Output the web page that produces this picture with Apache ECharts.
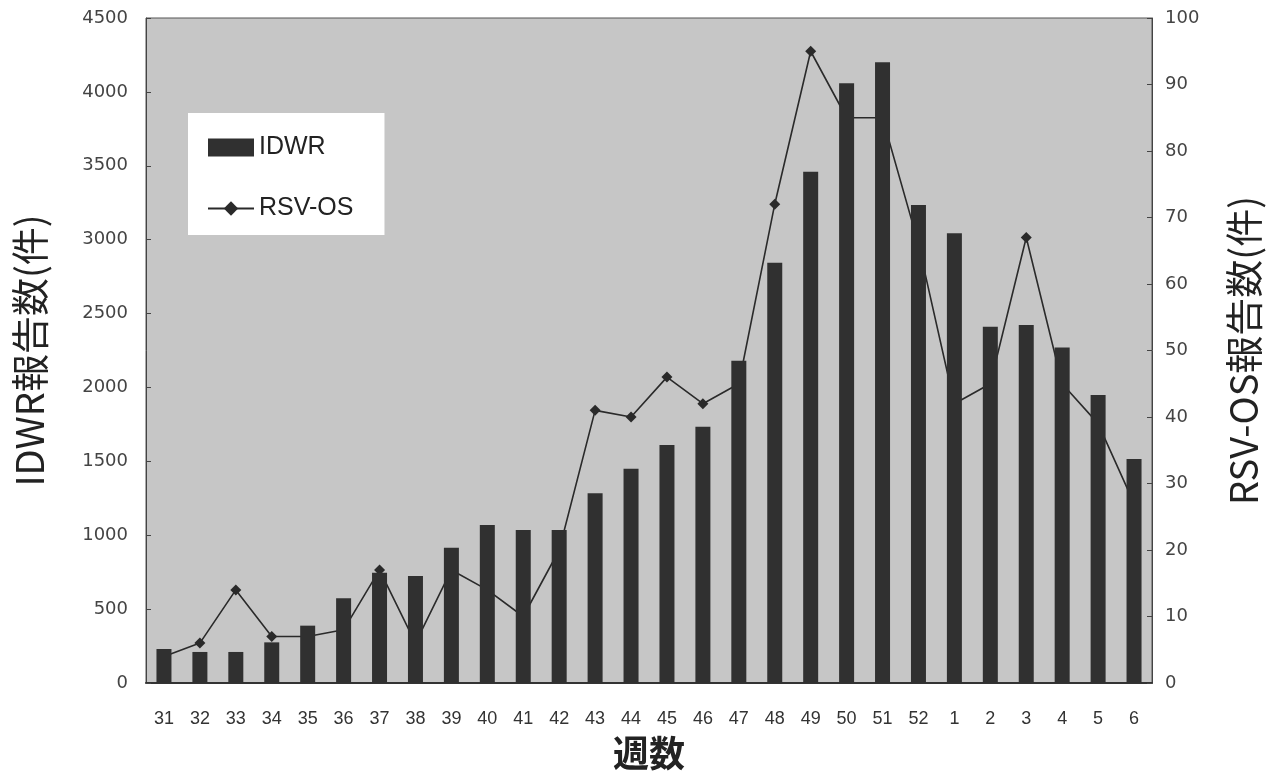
<!DOCTYPE html>
<html>
<head>
<meta charset="utf-8">
<script src="https://cdn.jsdelivr.net/npm/echarts@6/dist/echarts.min.js"></script>
<style>
html, body { margin: 0; padding: 0; background: #fff; }
#chart { width: 1270px; height: 771px; }
</style>
</head>
<body>
<div id="chart"></div>
<script>
var weeks = ['31', '32', '33', '34', '35', '36', '37', '38', '39', '40', '41', '42', '43', '44',
    '45', '46', '47', '48', '49', '50', '51', '52', '1', '2', '3', '4', '5', '6'];
var idwrData = [230, 210, 210, 275, 388, 573, 746, 724, 916, 1069, 1035, 1035, 1284, 1450,
    1610, 1734, 2181, 2844, 3460, 4058, 4200, 3234, 3043, 2411, 2422, 2271, 1949, 1516];
var rsvData = [4, 6, 14, 7, 7, 8, 17, 6, 17, 14, 10, 20, 41, 40,
    46, 42, 45, 72, 95, 85, 85, 66, 42, 45, 67, 45, 39, 27];

var numFont = 'DejaVu Sans';
var cjkFont = 'Noto Sans CJK JP';

var chart = echarts.init(document.getElementById('chart'));
chart.setOption({
    animation: false,
    grid: {
        left: 146,
        right: 118,
        top: 18,
        bottom: 88,
        containLabel: false,
        outerBoundsMode: 'none',
        show: true,
        backgroundColor: '#c6c6c6',
        borderColor: '#555',
        borderWidth: 1
    },
    legend: {
        orient: 'vertical',
        left: 188,
        top: 113,
        padding: [22, 31, 14, 19],
        itemGap: 36,
        itemWidth: 46,
        itemHeight: 18,
        backgroundColor: '#fff',
        textStyle: {fontFamily: 'Liberation Sans', fontSize: 25, color: '#222'},
        data: [
            {name: 'IDWR', icon: 'rect'},
            {name: 'RSV-OS'}
        ]
    },
    xAxis: {
        type: 'category',
        data: weeks,
        name: '週数',
        nameLocation: 'middle',
        nameGap: 52,
        nameTextStyle: {fontFamily: cjkFont, fontSize: 36, fontWeight: 'bold', color: '#222'},
        axisLine: {lineStyle: {color: '#333', width: 2}},
        axisTick: {inside: true, length: 5, lineStyle: {color: '#333'}},
        axisLabel: {fontFamily: 'Liberation Sans', fontSize: 18, color: '#333', margin: 27}
    },
    yAxis: [{
        type: 'value',
        min: 0,
        max: 4500,
        interval: 500,
        name: 'IDWR報告数(件)',
        nameLocation: 'middle',
        nameGap: 97,
        nameTextStyle: {fontFamily: cjkFont, fontSize: 38, color: '#222'},
        axisLine: {show: true, lineStyle: {color: '#444'}},
        axisTick: {show: true, inside: true, length: 5, lineStyle: {color: '#444'}},
        axisLabel: {
            fontFamily: numFont, fontSize: 18, color: '#444', margin: 18,
            formatter: function(v) {
                return String(v);
            }
        },
        splitLine: {show: false}
    }, {
        type: 'value',
        min: 0,
        max: 100,
        interval: 10,
        name: 'RSV-OS報告数(件)',
        nameLocation: 'middle',
        nameGap: 73,
        nameTextStyle: {fontFamily: cjkFont, fontSize: 38, color: '#222'},
        axisLine: {show: true, lineStyle: {color: '#444'}},
        axisTick: {show: true, inside: true, length: 5, lineStyle: {color: '#444'}},
        axisLabel: {fontFamily: numFont, fontSize: 18, color: '#444', margin: 13},
        splitLine: {show: false}
    }],
    series: [{
        name: 'IDWR',
        type: 'bar',
        yAxisIndex: 0,
        z: 3,
        barWidth: 15,
        itemStyle: {color: '#303030'},
        data: idwrData
    }, {
        name: 'RSV-OS',
        type: 'line',
        yAxisIndex: 1,
        z: 2,
        symbol: 'diamond',
        symbolSize: 11,
        showAllSymbol: true,
        itemStyle: {color: '#2a2a2a'},
        lineStyle: {color: '#2a2a2a', width: 1.6},
        data: rsvData
    }]
});
</script>
</body>
</html>
